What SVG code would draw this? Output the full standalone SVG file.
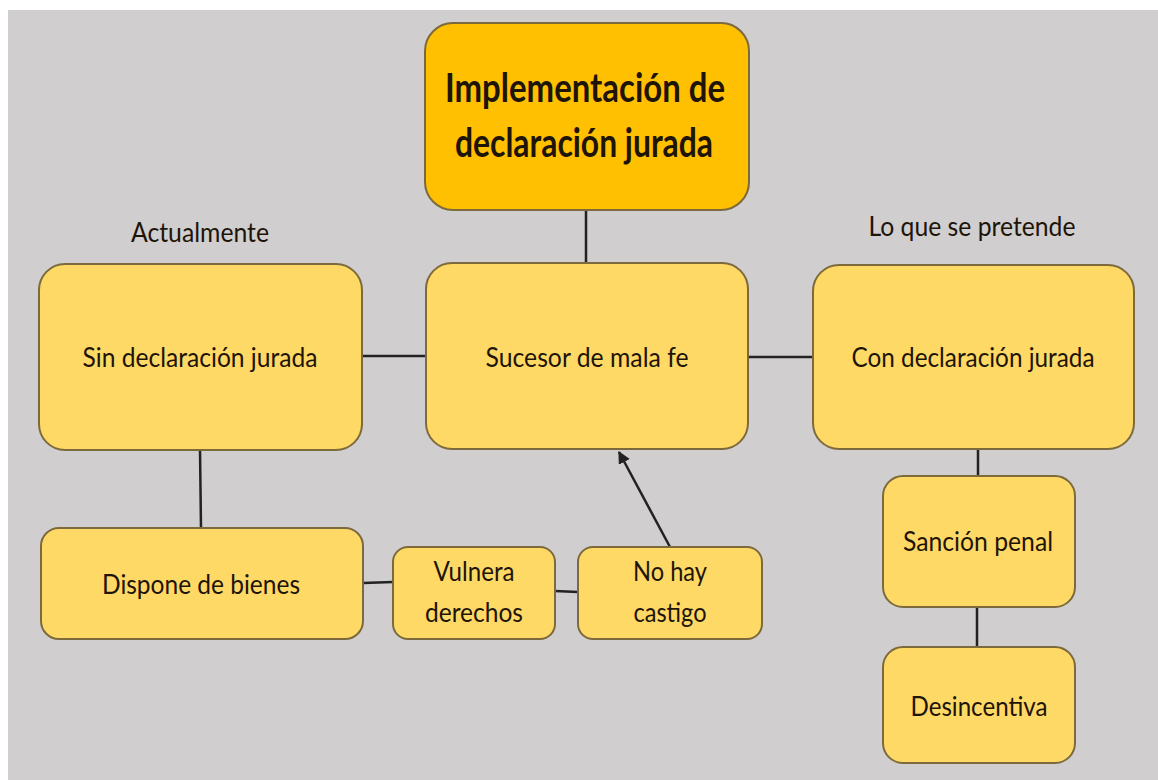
<svg xmlns="http://www.w3.org/2000/svg" width="1158" height="780" viewBox="0 0 1158 780">
<defs>
<style>
.box{fill:#fed966;stroke:#7d6a3c;stroke-width:2}
.main{fill:#fec000;stroke:#7d6a3c;stroke-width:2}
.t{font-family:Lato,"Liberation Sans",sans-serif;font-size:26px;fill:#1e1408;text-anchor:middle}
.tb{font-family:Lato,"Liberation Sans",sans-serif;font-size:40px;font-weight:bold;fill:#1e1408;text-anchor:middle}
.c{stroke:#222;stroke-width:2.5;fill:none}
</style>
<marker id="ah" viewBox="0 0 10 10" refX="9" refY="5" markerWidth="5" markerHeight="5" orient="auto"><path d="M0,0 L10,5 L0,10 z" fill="#222"/></marker>
</defs>
<rect x="0" y="0" width="1158" height="780" fill="#ffffff"/>
<rect x="8" y="10" width="1150" height="770" fill="#d0cecf"/>
<g id="connectors">
<line class="c" x1="586" y1="210" x2="586" y2="263"/>
<line class="c" x1="362" y1="356" x2="426" y2="356"/>
<line class="c" x1="748" y1="357" x2="813" y2="357"/>
<line class="c" x1="200" y1="450" x2="201" y2="528"/>
<line class="c" x1="363" y1="583" x2="393" y2="582"/>
<line class="c" x1="555" y1="591" x2="578" y2="592"/>
<line class="c" x1="670" y1="547" x2="619" y2="452" marker-end="url(#ah)"/>
<line class="c" x1="978" y1="449" x2="978" y2="476"/>
<line class="c" x1="977" y1="607" x2="977" y2="647"/>
</g>
<text class="t" x="200" y="242" textLength="138" lengthAdjust="spacingAndGlyphs">Actualmente</text>
<text class="t" x="972" y="236" textLength="207" lengthAdjust="spacingAndGlyphs">Lo que se pretende</text>
<g id="n-title"><rect class="main" x="425" y="23" width="324" height="187" rx="28"/>
<text class="tb" x="585" y="102" textLength="280" lengthAdjust="spacingAndGlyphs">Implementación de</text>
<text class="tb" x="584" y="157" textLength="258" lengthAdjust="spacingAndGlyphs">declaración jurada</text></g>
<g id="n-sin"><rect class="box" x="39" y="264" width="323" height="186" rx="26"/>
<text class="t" x="200" y="367" textLength="235" lengthAdjust="spacingAndGlyphs">Sin declaración jurada</text></g>
<g id="n-sucesor"><rect class="box" x="426" y="263" width="322" height="186" rx="26"/>
<text class="t" x="587" y="367" textLength="203" lengthAdjust="spacingAndGlyphs">Sucesor de mala fe</text></g>
<g id="n-con"><rect class="box" x="813" y="265" width="321" height="184" rx="26"/>
<text class="t" x="973" y="367" textLength="243" lengthAdjust="spacingAndGlyphs">Con declaración jurada</text></g>
<g id="n-dispone"><rect class="box" x="41" y="528" width="322" height="111" rx="18"/>
<text class="t" x="201" y="594" textLength="198" lengthAdjust="spacingAndGlyphs">Dispone de bienes</text></g>
<g id="n-vulnera"><rect class="box" x="393" y="547" width="162" height="92" rx="15"/>
<text class="t" x="474" y="581" textLength="81" lengthAdjust="spacingAndGlyphs">Vulnera</text>
<text class="t" x="474" y="622" textLength="98" lengthAdjust="spacingAndGlyphs">derechos</text></g>
<g id="n-nohay"><rect class="box" x="578" y="547" width="184" height="92" rx="15"/>
<text class="t" x="670" y="581" textLength="74" lengthAdjust="spacingAndGlyphs">No hay</text>
<text class="t" x="670" y="622" textLength="73" lengthAdjust="spacingAndGlyphs">castigo</text></g>
<g id="n-sancion"><rect class="box" x="883" y="476" width="192" height="131" rx="20"/>
<text class="t" x="978" y="551" textLength="150" lengthAdjust="spacingAndGlyphs">Sanción penal</text></g>
<g id="n-desinc"><rect class="box" x="883" y="647" width="192" height="116" rx="20"/>
<text class="t" x="979" y="716" textLength="137" lengthAdjust="spacingAndGlyphs">Desincentiva</text></g>
</svg>
